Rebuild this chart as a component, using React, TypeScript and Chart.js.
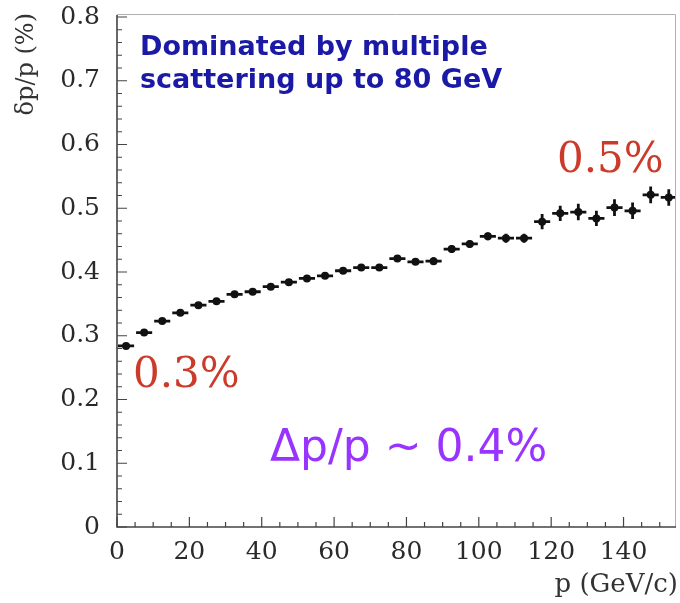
import React, { useEffect, useRef } from "react";
import { Chart, registerables } from "chart.js";

Chart.register(...registerables);

// Bin centres of the momentum histogram (GeV/c), 5 GeV wide bins
const momentum = [
  2.5, 7.5, 12.5, 17.5, 22.5, 27.5, 32.5, 37.5, 42.5, 47.5, 52.5, 57.5, 62.5,
  67.5, 72.5, 77.5, 82.5, 87.5, 92.5, 97.5, 102.5, 107.5, 112.5, 117.5, 122.5,
  127.5, 132.5, 137.5, 142.5, 147.5, 152.5,
];
// Relative momentum resolution dp/p in %
const resolution = [
  0.284, 0.305, 0.323, 0.336, 0.348, 0.354, 0.365, 0.369, 0.377, 0.384, 0.39,
  0.394, 0.402, 0.407, 0.407, 0.421, 0.416, 0.417, 0.436, 0.444, 0.456, 0.453,
  0.453, 0.479, 0.492, 0.494, 0.484, 0.501, 0.496, 0.521, 0.517,
];
// Statistical uncertainty on each resolution value
const resolutionErr = [
  0.003, 0.003, 0.003, 0.003, 0.003, 0.003, 0.003, 0.003, 0.004, 0.004, 0.004,
  0.004, 0.004, 0.005, 0.005, 0.005, 0.005, 0.006, 0.006, 0.006, 0.006, 0.007,
  0.007, 0.012, 0.012, 0.013, 0.012, 0.013, 0.013, 0.013, 0.013,
];
const binHalfWidth = 2.5;

const xMajorTicks = [0, 20, 40, 60, 80, 100, 120, 140];
const yMajorTicks = [0, 0.1, 0.2, 0.3, 0.4, 0.5, 0.6, 0.7, 0.8];
const xRange = [0, 154.5];
const yRange = [0, 0.8];

const xTitle = "p (GeV/c)";
const yTitle = "δp/p (%)";
const noteLines = ["Dominated by multiple", "scattering up to 80 GeV"];
const lowLabel = "0.3%";
const highLabel = "0.5%";
const meanLabel = "Δp/p ~ 0.4%";

const SERIF = '"DejaVu Serif", "Liberation Serif", serif';
const SANS = '"DejaVu Sans", "Noto Sans", sans-serif';

// Histogram-style error bars: bin width horizontally, uncertainty vertically
const errorBars = {
  id: "errorBars",
  beforeDatasetsDraw(chart: any) {
    const { ctx, chartArea, scales } = chart;
    const x = scales.x;
    const y = scales.y;
    ctx.save();
    ctx.beginPath();
    ctx.rect(chartArea.left, chartArea.top, chartArea.right - chartArea.left, chartArea.bottom - chartArea.top);
    ctx.clip();
    ctx.strokeStyle = "#111";
    ctx.lineWidth = 2.8;
    momentum.forEach((p, i) => {
      const v = resolution[i];
      const e = resolutionErr[i];
      const px = x.getPixelForValue(p);
      const py = y.getPixelForValue(v);
      ctx.beginPath();
      ctx.moveTo(x.getPixelForValue(p - binHalfWidth) + 1, py);
      ctx.lineTo(x.getPixelForValue(p + binHalfWidth) - 1, py);
      ctx.moveTo(px, y.getPixelForValue(v - e));
      ctx.lineTo(px, y.getPixelForValue(v + e));
      ctx.stroke();
    });
    ctx.restore();
  },
};

// Frame with inward major/minor ticks, annotations and axis titles
const frameAndText = {
  id: "frameAndText",
  afterDraw(chart: any) {
    const { ctx, chartArea, scales } = chart;
    const { left, right, top, bottom } = chartArea;
    const x = scales.x;
    const y = scales.y;
    ctx.save();

    // light top/right border
    ctx.strokeStyle = "#b0b0b0";
    ctx.lineWidth = 1;
    ctx.beginPath();
    ctx.moveTo(left, top - 2.5);
    ctx.lineTo(right - 0.5, top - 2.5);
    ctx.lineTo(right - 0.5, bottom);
    ctx.stroke();

    // left and bottom axes
    ctx.strokeStyle = "#444";
    ctx.lineWidth = 1.6;
    ctx.beginPath();
    ctx.moveTo(left, top - 2);
    ctx.lineTo(left, bottom);
    ctx.lineTo(right, bottom);
    ctx.stroke();

    ctx.lineWidth = 1.2;
    ctx.beginPath();
    for (let v = 0; v <= xRange[1] + 1e-6; v += 5) {
      const px = x.getPixelForValue(v);
      const len = Math.abs(v % 20) < 1e-6 ? 10 : 5;
      ctx.moveTo(px, bottom);
      ctx.lineTo(px, bottom - len);
    }
    for (let k = 0; k <= 40; k++) {
      const v = k * 0.02;
      const py = y.getPixelForValue(v);
      const len = k % 5 === 0 ? 10 : 5;
      ctx.moveTo(left, py);
      ctx.lineTo(left + len, py);
    }
    ctx.stroke();

    // blue note
    ctx.fillStyle = "#1a1aa6";
    ctx.font = `bold 27px ${SANS}`;
    ctx.textAlign = "left";
    ctx.textBaseline = "alphabetic";
    ctx.fillText(noteLines[0], 140, 55);
    ctx.fillText(noteLines[1], 140, 88);

    // red percent labels
    ctx.fillStyle = "#cc3a2a";
    ctx.font = `42px ${SERIF}`;
    ctx.fillText(highLabel, 557, 172);
    ctx.fillText(lowLabel, 133, 387);

    // purple average
    ctx.fillStyle = "#9933ff";
    ctx.font = `44px ${SANS}`;
    ctx.fillText(meanLabel, 270, 461);

    // axis titles
    ctx.fillStyle = "#333";
    ctx.font = `26px ${SERIF}`;
    ctx.textAlign = "right";
    ctx.fillText(xTitle, 678, 592);

    ctx.save();
    ctx.translate(27, 13);
    ctx.rotate(-Math.PI / 2);
    ctx.font = `24px ${SERIF}`;
    ctx.textAlign = "right";
    ctx.textBaseline = "middle";
    ctx.fillText(yTitle, 0, 0);
    ctx.restore();

    ctx.restore();
  },
};

export default function App() {
  const canvasRef = useRef<HTMLCanvasElement | null>(null);

  useEffect(() => {
    document.body.style.margin = "0";
    const canvas = canvasRef.current;
    if (!canvas) return;
    const chart = new Chart(canvas, {
      type: "scatter",
      data: {
        datasets: [
          {
            data: momentum.map((p, i) => ({ x: p, y: resolution[i] })),
            pointRadius: 4,
            pointBackgroundColor: "#111",
            pointBorderWidth: 0,
            showLine: false,
          },
        ],
      },
      options: {
        animation: false,
        responsive: false,
        devicePixelRatio: 1,
        layout: { padding: { top: 17, right: 3, left: 0, bottom: 0 } },
        plugins: {
          legend: { display: false },
          tooltip: { enabled: false },
        },
        scales: {
          x: {
            type: "linear",
            min: xRange[0],
            max: xRange[1],
            grid: { display: false, drawTicks: false },
            border: { display: false },
            afterBuildTicks: (s: any) => {
              s.ticks = xMajorTicks.map((v) => ({ value: v }));
            },
            afterFit: (s: any) => {
              s.height = 76;
              s.paddingLeft = 0;
              s.paddingRight = 0;
            },
            ticks: {
              maxRotation: 0,
              autoSkip: false,
              padding: 10,
              color: "#2a2a2a",
              font: { family: SERIF, size: 25 },
              callback: (v: any) => String(v),
            },
          },
          y: {
            type: "linear",
            min: yRange[0],
            max: yRange[1],
            grid: { display: false, drawTicks: false },
            border: { display: false },
            afterBuildTicks: (s: any) => {
              s.ticks = yMajorTicks.map((v) => ({ value: v }));
            },
            afterFit: (s: any) => {
              s.width = 117;
              s.paddingTop = 0;
              s.paddingBottom = 0;
            },
            ticks: {
              autoSkip: false,
              padding: 17,
              color: "#2a2a2a",
              font: { family: SERIF, size: 25 },
              callback: (v: any) => (v === 0 ? "0" : Number(v).toFixed(1)),
            },
          },
        },
      },
      plugins: [errorBars, frameAndText],
    });
    return () => chart.destroy();
  }, []);

  return <canvas ref={canvasRef} width={680} height={603} style={{ display: "block" }} />;
}
